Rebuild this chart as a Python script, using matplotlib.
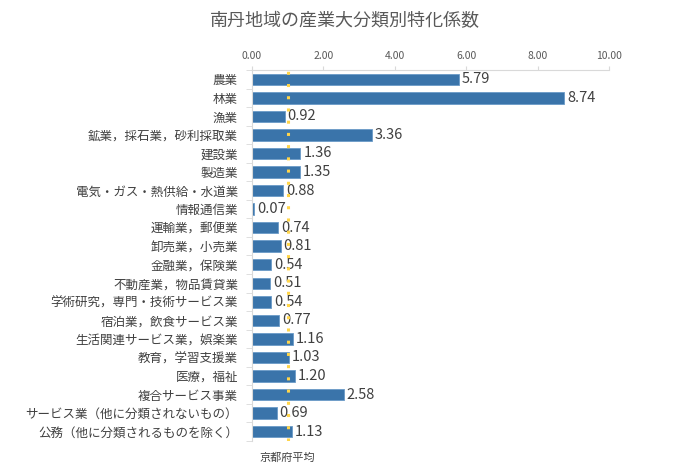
import numpy as np
import matplotlib.pyplot as plt

plt.rcParams['font.family'] = 'Noto Sans CJK JP'

# data
categories = ['農業', '林業', '漁業', '鉱業，採石業，砂利採取業', '建設業', '製造業',
              '電気・ガス・熱供給・水道業', '情報通信業', '運輸業，郵便業', '卸売業，小売業',
              '金融業，保険業', '不動産業，物品賃貸業', '学術研究，専門・技術サービス業',
              '宿泊業，飲食サービス業', '生活関連サービス業，娯楽業', '教育，学習支援業',
              '医療，福祉', '複合サービス事業', 'サービス業（他に分類されないもの）',
              '公務（他に分類されるものを除く）']
values = [5.79, 8.74, 0.92, 3.36, 1.36, 1.35, 0.88, 0.07, 0.74, 0.81,
          0.54, 0.51, 0.54, 0.77, 1.16, 1.03, 1.20, 2.58, 0.69, 1.13]
ticks = [0, 2, 4, 6, 8, 10]
kyoto_avg = 1.0

fig = plt.figure(figsize=(6.9, 4.7), dpi=100)
ax = fig.add_axes([0.365, 0.062, 0.518, 0.789])

y = np.arange(len(categories))
ax.barh(y, values, height=0.62, color='#3a74aa', edgecolor='#6a9ac8', linewidth=0.6, zorder=2)
for yi, v in zip(y, values):
    ax.text(v + 0.08, yi, f'{v:.2f}', va='center', ha='left', fontsize=10.5, color='#404040')

ax.axvline(kyoto_avg, color='#ffd54a', linestyle=(0, (1, 3)), linewidth=2.2, zorder=3)

ax.set_ylim(len(categories) - 0.5, -0.5)
ax.set_xlim(0, 10)
ax.xaxis.tick_top()
ax.set_xticks(ticks)
ax.set_xticklabels([f'{t:.2f}' for t in ticks], fontsize=7.5, color='#595959')
ax.tick_params(axis='x', length=3, color='#d9d9d9')
ax.set_yticks(y)
ax.set_yticklabels(categories, fontsize=9, color='#404040')
ax.set_yticks(np.arange(len(categories) + 1) - 0.5, minor=True)
ax.tick_params(axis='y', which='major', length=0, pad=10)
ax.tick_params(axis='y', which='minor', length=4, color='#d9d9d9')
for s in ['right', 'bottom']:
    ax.spines[s].set_visible(False)
for s in ['top', 'left']:
    ax.spines[s].set_color('#d9d9d9')

ax.text(kyoto_avg, len(categories) - 0.5 + 0.9, '京都府平均', ha='center', va='center',
        fontsize=8, color='#404040')
fig.text(0.5, 0.955, '南丹地域の産業大分類別特化係数', ha='center', va='center',
         fontsize=13, color='#595959')

fig.savefig('out.png', dpi=100)
